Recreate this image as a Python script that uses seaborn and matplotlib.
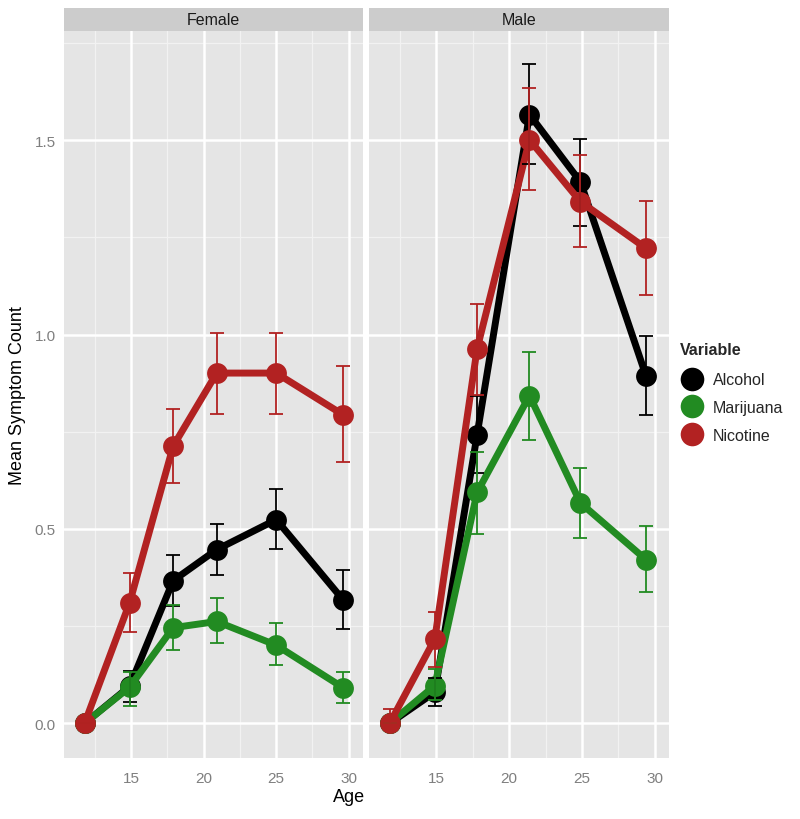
import numpy as np
import pandas as pd
import matplotlib
matplotlib.use("Agg")
import matplotlib.pyplot as plt
from matplotlib.lines import Line2D
from matplotlib.patches import Rectangle
import seaborn as sns

# ---------------- data ----------------
genders = ["Female", "Male"]
variables = ["Alcohol", "Marijuana", "Nicotine"]

female_age = [11.8, 14.9, 17.9, 20.9, 25.0, 29.6]
male_age = [11.8, 14.9, 17.8, 21.4, 24.9, 29.4]

alc_f = [0.0, 0.095, 0.367, 0.447, 0.524, 0.318]
alc_f_lo = [0.0, 0.055, 0.301, 0.382, 0.448, 0.243]
alc_f_hi = [0.0, 0.135, 0.434, 0.513, 0.602, 0.394]
mar_f = [0.0, 0.093, 0.246, 0.262, 0.201, 0.092]
mar_f_lo = [0.0, 0.045, 0.188, 0.206, 0.149, 0.052]
mar_f_hi = [0.0, 0.133, 0.304, 0.322, 0.257, 0.131]
nic_f = [0.0, 0.310, 0.713, 0.901, 0.901, 0.794]
nic_f_lo = [0.0, 0.234, 0.618, 0.797, 0.797, 0.673]
nic_f_hi = [0.0, 0.387, 0.809, 1.005, 1.003, 0.918]

alc_m = [0.0, 0.080, 0.742, 1.566, 1.393, 0.894]
alc_m_lo = [0.0, 0.044, 0.644, 1.438, 1.279, 0.794]
alc_m_hi = [0.0, 0.117, 0.843, 1.695, 1.502, 0.996]
mar_m = [0.0, 0.097, 0.594, 0.843, 0.567, 0.421]
mar_m_lo = [0.0, 0.060, 0.486, 0.730, 0.478, 0.337]
mar_m_hi = [0.0, 0.140, 0.697, 0.956, 0.658, 0.508]
nic_m = [0.0, 0.217, 0.963, 1.501, 1.342, 1.222]
nic_m_lo = [0.0, 0.146, 0.845, 1.372, 1.225, 1.103]
nic_m_hi = [0.037, 0.287, 1.079, 1.634, 1.463, 1.343]

y_ticks = [0.0, 0.5, 1.0, 1.5]
x_ticks = [15, 20, 25, 30]

palette = {"Alcohol": "#000000", "Marijuana": "#228B22", "Nicotine": "#B22222"}

rows = []
series = {
    "Female": (female_age, {"Alcohol": (alc_f, alc_f_lo, alc_f_hi),
                            "Marijuana": (mar_f, mar_f_lo, mar_f_hi),
                            "Nicotine": (nic_f, nic_f_lo, nic_f_hi)}),
    "Male": (male_age, {"Alcohol": (alc_m, alc_m_lo, alc_m_hi),
                        "Marijuana": (mar_m, mar_m_lo, mar_m_hi),
                        "Nicotine": (nic_m, nic_m_lo, nic_m_hi)}),
}
for g in genders:
    ages, d = series[g]
    for v in variables:
        m, lo, hi = d[v]
        for a, mm, l, h in zip(ages, m, lo, hi):
            rows.append(dict(Gender=g, Variable=v, Age=a, Mean=mm, Lo=l, Hi=h))
df = pd.DataFrame(rows)

# ---------------- style ----------------
sns.set_style("white")
plt.rcParams["font.family"] = ["Liberation Sans", "DejaVu Sans"]

fig = plt.figure(figsize=(8, 8.2), dpi=100)
W, H = 800, 820
panel_px = [(64.3, 363.3), (369.3, 669.3)]
top_px, bot_px = 32, 759.3
strip_h = 23.5

axes = []
for i, g in enumerate(genders):
    l, r = panel_px[i]
    ax = fig.add_axes([l / W, (H - bot_px) / H, (r - l) / W, (bot_px - top_px) / H])
    axes.append(ax)
    ax.set_facecolor("#E5E5E5")
    ax.set_xlim(10.4, 31.0)
    ax.set_ylim(-0.09, 1.781)
    # grid
    for x in [12.5, 17.5, 22.5, 27.5]:
        ax.axvline(x, color="#F2F2F2", lw=0.9, zorder=0)
    for y in [0.25, 0.75, 1.25, 1.75]:
        ax.axhline(y, color="#F2F2F2", lw=0.9, zorder=0)
    for x in x_ticks:
        ax.axvline(x, color="white", lw=1.8, zorder=0.5)
    for y in y_ticks:
        ax.axhline(y, color="white", lw=1.8, zorder=0.5)

    sub = df[df.Gender == g]
    sns.lineplot(data=sub, x="Age", y="Mean", hue="Variable", hue_order=variables,
                 palette=palette, marker="o", markersize=15, markeredgewidth=0,
                 linewidth=5, ax=ax, legend=False, zorder=3, estimator=None, sort=False)
    for v in variables:
        s = sub[sub.Variable == v]
        ax.errorbar(s.Age, s.Mean, yerr=[s.Mean - s.Lo, s.Hi - s.Mean], fmt="none",
                    ecolor=palette[v], elinewidth=1.3, capsize=4.8, capthick=1.3, zorder=4)

    ax.set_xticks(x_ticks)
    ax.set_xticklabels([str(t) for t in x_ticks])
    ax.set_yticks(y_ticks)
    ax.set_yticklabels([f"{t:.1f}" for t in y_ticks])
    ax.tick_params(axis="both", colors="#7F7F7F", labelcolor="#7F7F7F", labelsize=11,
                   length=4, width=1, direction="out")
    ax.tick_params(axis="x", pad=5)
    ax.tick_params(axis="y", pad=2)
    for sp in ax.spines.values():
        sp.set_visible(False)
    ax.set_xlabel("")
    ax.set_ylabel("")
    if i == 1:
        ax.tick_params(axis="y", left=False, labelleft=False)
    # strip
    sh = strip_h / (bot_px - top_px)
    ax.add_patch(Rectangle((0, 1), 1, sh, transform=ax.transAxes, facecolor="#CCCCCC",
                           edgecolor="none", clip_on=False))
    ax.text(0.5, 1 + sh / 2, g, transform=ax.transAxes, ha="center", va="center",
            fontsize=11.5, color="#1A1A1A")

fig.text(18 / W, 1 - ((top_px + bot_px) / 2) / H, "Mean Symptom Count", rotation=90,
         ha="center", va="center", fontsize=13, color="black")
fig.text(349 / W, 1 - 798 / H, "Age", ha="center", va="center", fontsize=13, color="black")

handles = [Line2D([0], [0], color=palette[v], marker="o", markersize=17, lw=0,
                  markeredgewidth=0) for v in variables]
leg = fig.legend(handles, variables, title="Variable", loc="upper left",
                 bbox_to_anchor=(680 / W, 1 - 343 / H), frameon=False, fontsize=11.5,
                 title_fontsize=11.5, handletextpad=0.55, labelspacing=0.8,
                 handlelength=1.5, borderaxespad=0, borderpad=0)
leg.get_title().set_fontweight("bold")
leg._legend_box.align = "left"
leg._legend_box.sep = 11

fig.savefig("out.png", dpi=100)
